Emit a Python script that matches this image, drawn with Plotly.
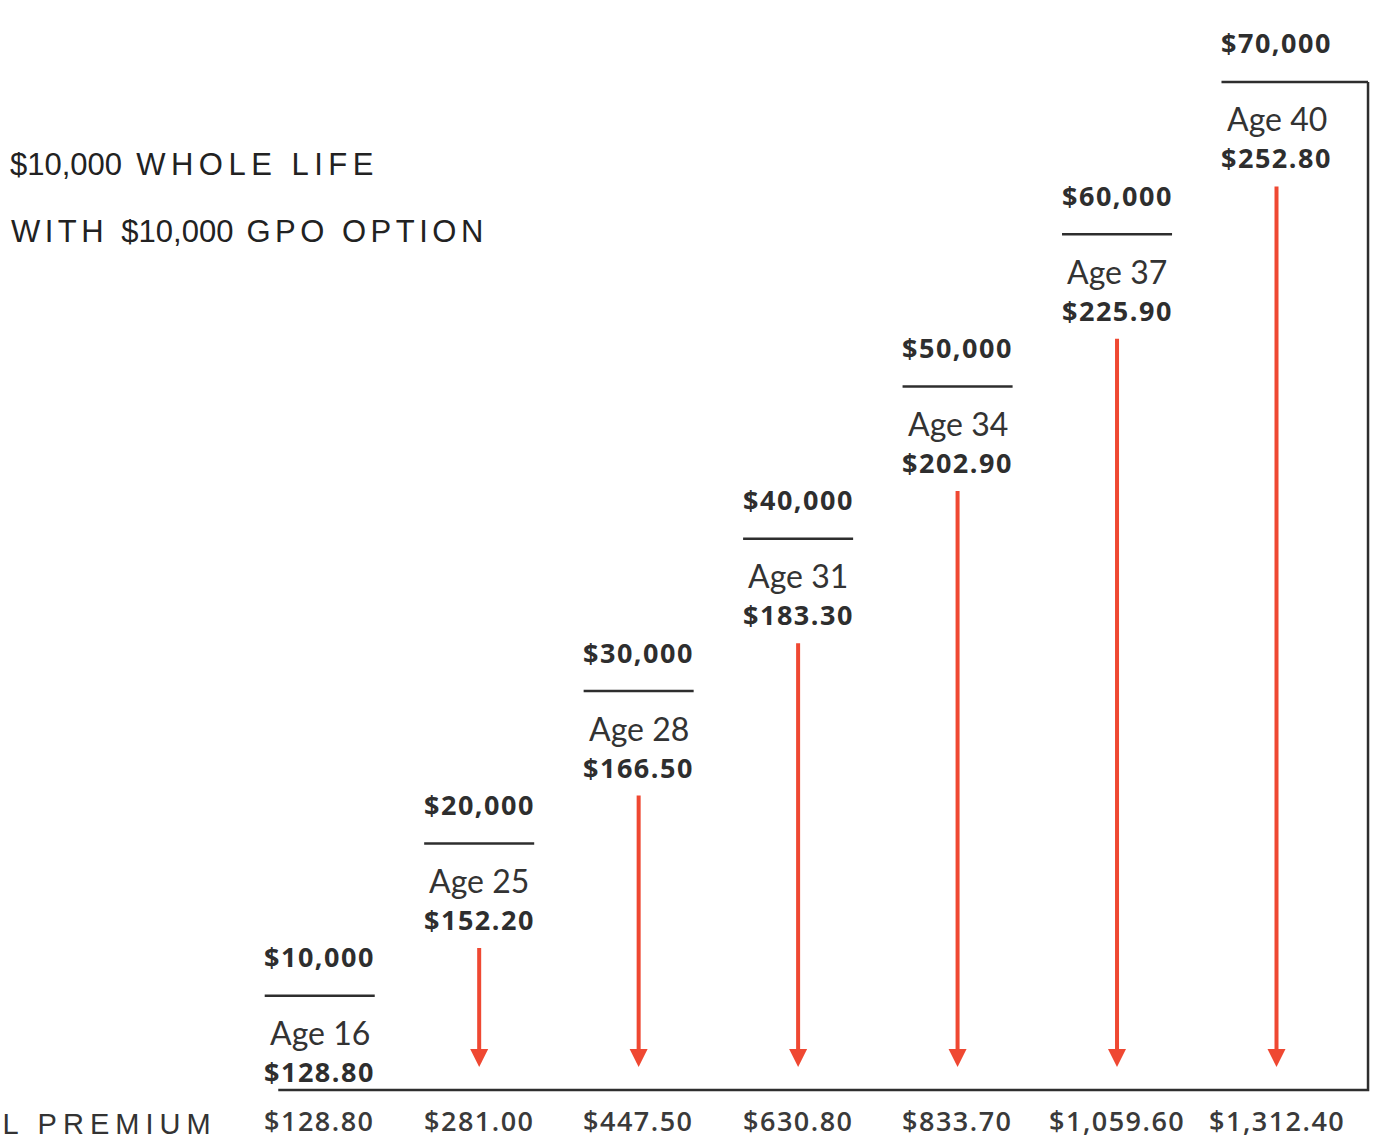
import plotly.graph_objects as go

# ---------------- data ----------------
coverage_thousands = [10, 20, 30, 40, 50, 60, 70]
ages = [16, 25, 28, 31, 34, 37, 40]
annual_premiums = [128.80, 152.20, 166.50, 183.30, 202.90, 225.90, 252.80]
cumulative_premiums = [128.80, 281.00, 447.50, 630.80, 833.70, 1059.60, 1312.40]
title_line1_amount = "$10,000"
title_line1_words = "WHOLE LIFE"
title_line2_a = "WITH"
title_line2_amount = "$10,000"
title_line2_b = "GPO OPTION"
row_label = "ANNUAL PREMIUM"

# ---------------- layout constants ----------------
W, H = 1376, 1139
X_RANGE = [-2.005, 6.624]
Y_RANGE = [0.59, 75.38]
PX_PER_Y = H / (Y_RANGE[1] - Y_RANGE[0])
BASE_Y = 3.81          # level of the baseline
BASE_X0 = -0.26        # left end of the baseline
BORDER_X = 6.574       # right-hand frame line
HALF_W = 0.345         # half width of each separator rule
ARROW_GAP = 103 / PX_PER_Y
TIP_Y = 5.32

INK = "#2e2e2e"
RED = "#ef4832"
BOLD_FONT = dict(family="Open Sans", size=27, color=INK, weight=700)
AGE_FONT = dict(family="Lato", size=32, color="#333333", weight=400)
BOTTOM_FONT = dict(family="Open Sans", size=27, color="#3a3a3a", weight=600)
TITLE_FONT = dict(family="Liberation Sans", size=31, color="#222222")

fig = go.Figure()

# separator rules above each "Age" block
xs, ys = [], []
n = len(coverage_thousands)
for i, c in enumerate(coverage_thousands):
    x1 = BORDER_X if i == n - 1 else i + HALF_W
    xs += [i - HALF_W, x1, None]
    ys += [c, c, None]
fig.add_trace(go.Scatter(x=xs, y=ys, mode="lines",
                         line=dict(color=INK, width=2.5),
                         hoverinfo="skip", showlegend=False))

# frame: baseline and right-hand border
fig.add_trace(go.Scatter(x=[BASE_X0, BORDER_X, BORDER_X],
                         y=[BASE_Y, BASE_Y, coverage_thousands[-1]],
                         mode="lines", line=dict(color=INK, width=2.5),
                         hoverinfo="skip", showlegend=False))

def spaced(t, px):
    return f'<span style="letter-spacing:{px}px">{t}</span>'

ann = []
for i, (c, a, p, cum) in enumerate(zip(coverage_thousands, ages,
                                         annual_premiums, cumulative_premiums)):
    ann.append(dict(x=i, y=c, text=spaced(f"${c * 1000:,}", 1.5), showarrow=False,
                    yshift=39, font=BOLD_FONT))
    ann.append(dict(x=i, y=c, text=f"Age {a}", showarrow=False,
                    yshift=-37, font=AGE_FONT))
    ann.append(dict(x=i, y=c, text=spaced(f"${p:,.2f}", 1.5), showarrow=False,
                    yshift=-76, font=BOLD_FONT))
    ann.append(dict(x=i, y=BASE_Y, text=spaced(f"${cum:,.2f}", 1.5),
                    showarrow=False, yshift=-31, font=BOTTOM_FONT))
    if i > 0:
        ann.append(dict(x=i, y=TIP_Y, ax=i, ay=c - ARROW_GAP,
                        xref="x", yref="y", axref="x", ayref="y",
                        text="", showarrow=True, arrowhead=2, arrowsize=0.9,
                        arrowwidth=4, arrowcolor=RED, standoff=0, startstandoff=0))

def px(x):
    return x / W

def py(y):
    return 1 - y / H

ann.append(dict(xref="paper", yref="paper", x=px(8), y=py(164),
                xanchor="left", yanchor="middle", showarrow=False, font=TITLE_FONT,
                text=f'{title_line1_amount}' + spaced(f" {title_line1_words}", 5.5)))
ann.append(dict(xref="paper", yref="paper", x=px(9), y=py(232),
                xanchor="left", yanchor="middle", showarrow=False, font=TITLE_FONT,
                text=spaced(f"{title_line2_a} ", 4.5) + title_line2_amount
                     + spaced(f" {title_line2_b}", 4.5)))
ann.append(dict(xref="paper", yref="paper", x=px(219), y=py(1124),
                xanchor="right", yanchor="middle", showarrow=False,
                font=dict(family="Liberation Sans", size=29, color="#333333"),
                text=spaced(row_label, 6)))

fig.update_layout(
    width=W, height=H,
    margin=dict(l=0, r=0, t=0, b=0),
    paper_bgcolor="white", plot_bgcolor="white",
    xaxis=dict(range=X_RANGE, visible=False, showgrid=False, zeroline=False, fixedrange=True),
    yaxis=dict(range=Y_RANGE, visible=False, showgrid=False, zeroline=False, fixedrange=True),
    annotations=ann,
    showlegend=False,
)

fig.write_html("out.html", config={"displayModeBar": False},
               post_script="document.body.style.margin='0';document.body.style.overflow='hidden';")
